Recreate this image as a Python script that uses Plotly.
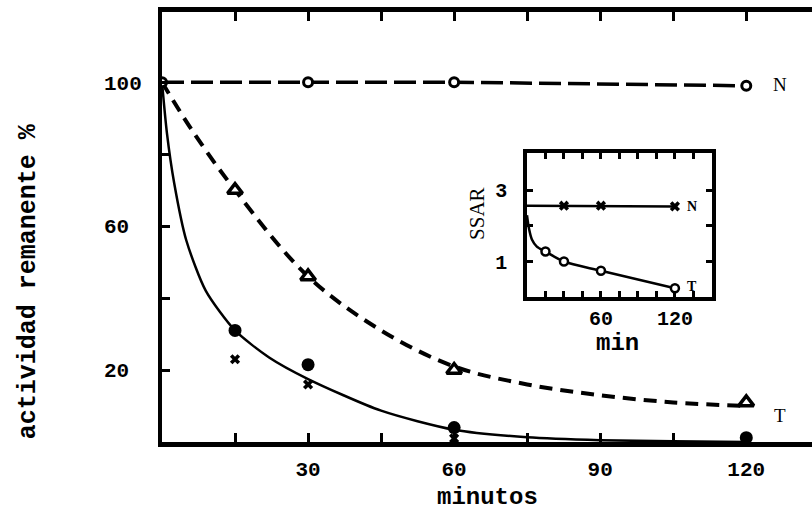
import plotly.graph_objects as go

# ---- main panel: remaining activity (%) vs time (min) ----
t_n = [0, 30, 60, 120]
act_n = [100, 100, 100, 99]

t_tri = [15, 30, 60, 120]
act_tri = [70, 46, 20, 11]

t_dot = [15, 30, 60, 120]
act_dot = [31, 21.5, 4, 1.2]

t_x = [15, 30, 60]
act_x = [23, 16, 1]

# traced fit curves
dash_curve_t = [0, 6, 15, 30, 45, 60, 75, 90, 105, 120]
dash_curve_y = [100, 87, 70, 46, 31, 21, 16, 13, 11, 10]
solid_curve_t = [0, 1, 2.5, 5, 9, 15, 22, 30, 45, 60, 75, 90, 105, 120]
solid_curve_y = [100, 86, 72, 56, 42, 31, 23.5, 17.5, 8.7, 3.4, 1.3, 0.5, 0.2, 0]

x_ticks = [15, 30, 45, 60, 75, 90, 105, 120]
x_ticktext = ["", "30", "", "60", "", "90", "", "120"]
y_ticks = [20, 40, 60, 80, 100]
y_ticktext = ["20 ", "", "60 ", "", "100"]

# ---- inset: SSAR vs time (min) ----
ti_n = [0, 30, 60, 120]
ssar_n = [2.57, 2.57, 2.57, 2.55]
ti_t = [15, 30, 60, 120]
ssar_t = [1.28, 1.0, 0.74, 0.25]
inset_curve_t = [0, 1.5, 4, 8, 15, 30, 60, 120]
inset_curve_y = [2.3, 1.95, 1.62, 1.42, 1.28, 1.0, 0.74, 0.25]

ix_ticks = [15, 30, 45, 60, 75, 90, 105, 120, 135]
ix_ticktext = ["", "", "", "60", "", "", "", "120", ""]
iy_ticks = [1, 2, 3]
iy_ticktext = ["1", "", "3"]

MONO = "Liberation Mono"
SERIF = "Liberation Serif"
INK = "#000000"

fig = go.Figure()

# main curves
fig.add_trace(go.Scatter(x=t_n, y=act_n, mode="lines",
                         line=dict(color=INK, width=3.5, dash="22px,7px")))
fig.add_trace(go.Scatter(x=dash_curve_t, y=dash_curve_y, mode="lines", line_shape="spline",
                         line=dict(color=INK, width=4, dash="13px,8px")))
fig.add_trace(go.Scatter(x=solid_curve_t, y=solid_curve_y, mode="lines", line_shape="spline",
                         line=dict(color=INK, width=2.5, smoothing=0.7)))

# main markers
fig.add_trace(go.Scatter(x=t_n, y=act_n, mode="markers",
                         marker=dict(symbol="circle", size=9, color="white", line=dict(width=3, color=INK))))
fig.add_trace(go.Scatter(x=t_tri, y=act_tri, mode="markers",
                         marker=dict(symbol="triangle-up", size=13, color="white", line=dict(width=3.5, color=INK))))
fig.add_trace(go.Scatter(x=t_dot, y=act_dot, mode="markers",
                         marker=dict(symbol="circle", size=13, color=INK)))
fig.add_trace(go.Scatter(x=t_x, y=act_x, mode="markers",
                         marker=dict(symbol="x", size=9, color=INK, line=dict(width=0))))

# inset curves and markers
fig.add_trace(go.Scatter(x=ti_n, y=ssar_n, mode="lines", xaxis="x2", yaxis="y2",
                         line=dict(color=INK, width=2.5)))
fig.add_trace(go.Scatter(x=ti_n[1:], y=ssar_n[1:], mode="markers", xaxis="x2", yaxis="y2",
                         marker=dict(symbol="x", size=9, color=INK, line=dict(width=0))))
fig.add_trace(go.Scatter(x=inset_curve_t, y=inset_curve_y, mode="lines", line_shape="spline",
                         xaxis="x2", yaxis="y2", line=dict(color=INK, width=2.5, smoothing=0.8)))
fig.add_trace(go.Scatter(x=ti_t, y=ssar_t, mode="markers", xaxis="x2", yaxis="y2",
                         marker=dict(symbol="circle", size=8, color="white",
                                     line=dict(width=2.5, color=INK))))

axis_common = dict(showgrid=False, zeroline=False, ticks="inside", tickcolor=INK,
                   linecolor=INK, showline=True)

fig.update_layout(
    width=812, height=512,
    margin=dict(l=162, r=0, t=12, b=70),
    plot_bgcolor="white", paper_bgcolor="white",
    showlegend=False,
    xaxis=dict(axis_common, range=[0, 133.5], tickvals=x_ticks, ticktext=x_ticktext,
               ticklen=9, tickwidth=2.5, linewidth=4.5, mirror="ticks",
               tickfont=dict(family=MONO, size=21, color=INK, weight="bold"),
               ticklabelstandoff=4),
    yaxis=dict(axis_common, range=[0, 119.5], tickvals=y_ticks, ticktext=y_ticktext,
               ticklen=8, tickwidth=2.5, linewidth=4, mirror=False,
               tickfont=dict(family=MONO, size=21, color=INK, weight="bold"),
               ticklabelstandoff=12),
    yaxis3=dict(overlaying="y", side="right", anchor="x", range=[0, 119.5], tickvals=y_ticks,
                showticklabels=False, ticks="inside", ticklen=7, tickwidth=2.5, tickcolor=INK,
                showline=False, showgrid=False, zeroline=False),
    xaxis2=dict(axis_common, domain=[0.5615, 0.846], anchor="y2", range=[0, 150],
                tickvals=ix_ticks, ticktext=ix_ticktext, ticklen=6, tickwidth=2.5,
                linewidth=3.5, mirror="ticks",
                tickfont=dict(family=MONO, size=20, color=INK, weight="bold")),
    yaxis2=dict(axis_common, domain=[0.337, 0.672], anchor="x2", range=[0, 4.05],
                tickvals=iy_ticks, ticktext=iy_ticktext, ticklen=6, tickwidth=2.5,
                linewidth=3.5, mirror="ticks", ticklabelstandoff=12,
                tickfont=dict(family=MONO, size=20, color=INK, weight="bold")),
)

annotations = [
    dict(text="actividad remanente %", xref="paper", yref="paper", x=-0.206, y=0.374,
         textangle=-90, showarrow=False, xanchor="center", yanchor="middle",
         font=dict(family=MONO, size=25, color=INK, weight="bold")),
    dict(text="minutos", xref="paper", yref="paper", x=0.5, y=-0.128,
         showarrow=False, xanchor="center", yanchor="middle",
         font=dict(family=MONO, size=24, color=INK, weight="bold")),
    dict(text="N", xref="x", yref="y", x=127, y=99.4, showarrow=False,
         font=dict(family=SERIF, size=19, color=INK)),
    dict(text="T", xref="x", yref="y", x=127, y=7.5, showarrow=False,
         font=dict(family=SERIF, size=19, color=INK)),
    dict(text="min", xref="paper", yref="paper", x=0.70, y=0.230,
         showarrow=False, xanchor="center", yanchor="middle",
         font=dict(family=MONO, size=24, color=INK, weight="bold")),
    dict(text="SSAR", xref="paper", yref="paper", x=0.4846, y=0.5326, textangle=-90,
         showarrow=False, xanchor="center", yanchor="middle",
         font=dict(family=SERIF, size=21, color=INK)),
    dict(text="N", xref="x2", yref="y2", x=134, y=2.55, showarrow=False,
         font=dict(family=SERIF, size=14, color=INK, weight="bold")),
    dict(text="T", xref="x2", yref="y2", x=134, y=0.3, showarrow=False,
         font=dict(family=SERIF, size=14, color=INK, weight="bold")),
]
fig.update_layout(annotations=annotations)

fig.write_html("out.html")
